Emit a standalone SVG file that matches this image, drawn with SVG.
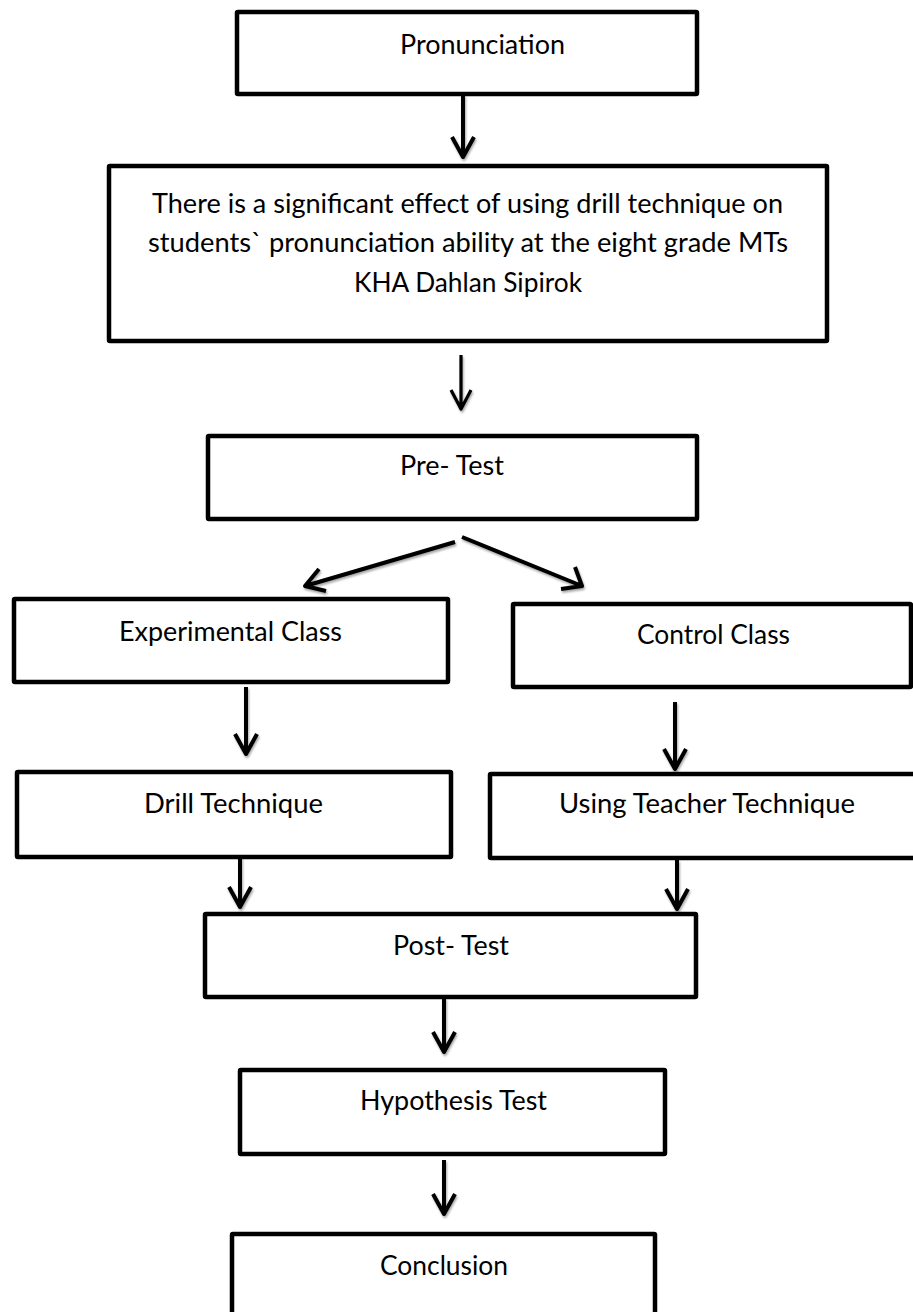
<svg xmlns="http://www.w3.org/2000/svg" width="913" height="1312" viewBox="0 0 913 1312">
  <style>
    .box { fill: #ffffff; stroke: #000000; stroke-width: 4.5; stroke-linejoin: round; }
    .lbl { font-family: "Lato", "Open Sans", "Liberation Sans", sans-serif; font-size: 26px; fill: #000000; text-anchor: middle; }
    .arr { fill: none; stroke: #000000; stroke-width: 4; stroke-linecap: butt; stroke-linejoin: round; }
    .thin { stroke-width: 3.2; }
  </style>
  <defs>
    <filter id="sh" x="-20%" y="-20%" width="140%" height="140%">
      <feDropShadow dx="1" dy="2" stdDeviation="1.2" flood-color="#000" flood-opacity="0.35"/>
    </filter>
  </defs>
  <rect width="913" height="1312" fill="#ffffff"/>

  <g id="connectors" filter="url(#sh)">
    <path class="arr" d="M463 95 L463 157 M452 137 L463 157 L474 137"/>
    <path class="arr thin" d="M461 355 L461 409 M451 390 L461 409 L471 390"/>
    <path class="arr" d="M455 542 L305 586 M319 569 L305 586 L326 591"/>
    <path class="arr" d="M462 537 L582 586 M575 567 L582 586 L561 589"/>
    <path class="arr" d="M246 687 L246 754 M235 734 L246 754 L257 734"/>
    <path class="arr" d="M675 702 L675 769 M664 749 L675 769 L686 749"/>
    <path class="arr" d="M240 857 L240 907 M229 887 L240 907 L251 887"/>
    <path class="arr" d="M677 860 L677 909 M666 889 L677 909 L688 889"/>
    <path class="arr" d="M444 998 L444 1052 M433 1032 L444 1052 L455 1032"/>
    <path class="arr" d="M444 1160 L444 1214 M433 1194 L444 1214 L455 1194"/>
  </g>

  <g id="pronunciation">
    <rect class="box" x="237" y="12" width="460" height="82" rx="1"/>
    <text class="lbl" x="482.5" y="54" textLength="165" lengthAdjust="spacingAndGlyphs">Pronunciation</text>
  </g>

  <g id="hypothesis-statement">
    <rect class="box" x="109" y="166" width="718" height="175" rx="1"/>
    <text class="lbl" x="467.5" y="213" textLength="631" lengthAdjust="spacingAndGlyphs">There is a significant effect of using drill technique on</text>
    <text class="lbl" x="468" y="252" textLength="640" lengthAdjust="spacingAndGlyphs">students` pronunciation ability at the eight grade MTs</text>
    <text class="lbl" x="468" y="292" textLength="228" lengthAdjust="spacingAndGlyphs">KHA Dahlan Sipirok</text>
  </g>

  <g id="pre-test">
    <rect class="box" x="208" y="436" width="489" height="83" rx="1"/>
    <text class="lbl" x="452" y="475" textLength="104" lengthAdjust="spacingAndGlyphs">Pre- Test</text>
  </g>

  <g id="experimental-class">
    <rect class="box" x="14" y="599" width="434" height="83" rx="1"/>
    <text class="lbl" x="230.5" y="641" textLength="223" lengthAdjust="spacingAndGlyphs">Experimental Class</text>
  </g>

  <g id="control-class">
    <rect class="box" x="513" y="604" width="398" height="83" rx="1"/>
    <text class="lbl" x="713.5" y="644" textLength="153" lengthAdjust="spacingAndGlyphs">Control Class</text>
  </g>

  <g id="drill-technique">
    <rect class="box" x="17" y="772" width="434" height="85" rx="1"/>
    <text class="lbl" x="233.5" y="813" textLength="179" lengthAdjust="spacingAndGlyphs">Drill Technique</text>
  </g>

  <g id="teacher-technique">
    <rect class="box" x="490" y="774" width="434" height="84" rx="1"/>
    <text class="lbl" x="707" y="813" textLength="296" lengthAdjust="spacingAndGlyphs">Using Teacher Technique</text>
  </g>

  <g id="post-test">
    <rect class="box" x="205" y="914" width="491" height="83" rx="1"/>
    <text class="lbl" x="451" y="955" textLength="116" lengthAdjust="spacingAndGlyphs">Post- Test</text>
  </g>

  <g id="hypothesis-test">
    <rect class="box" x="240" y="1070" width="425" height="84" rx="1"/>
    <text class="lbl" x="453.5" y="1110" textLength="187" lengthAdjust="spacingAndGlyphs">Hypothesis Test</text>
  </g>

  <g id="conclusion">
    <rect class="box" x="232" y="1234" width="423" height="100" rx="1"/>
    <text class="lbl" x="444" y="1275" textLength="128" lengthAdjust="spacingAndGlyphs">Conclusion</text>
  </g>
</svg>
